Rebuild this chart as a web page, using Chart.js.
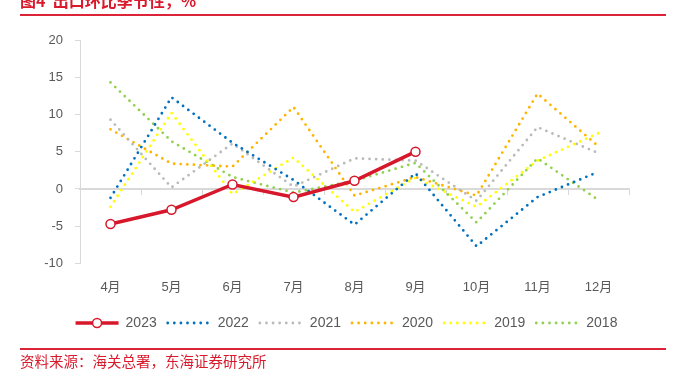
<!DOCTYPE html>
<html>
<head>
<meta charset="utf-8">
<script src="https://cdn.jsdelivr.net/npm/chart.js@4.4.0/dist/chart.umd.min.js"></script>
<style>
  html, body { margin: 0; padding: 0; background: #fff; }
  body { width: 682px; height: 376px; position: relative; overflow: hidden; }
  #wrap { position: absolute; left: 0; top: 0; width: 682px; height: 376px; }
  .title { position: absolute; left: 20px; top: -8px; font: bold 16px/16px "Noto Sans CJK SC", sans-serif; color: #D9192C; white-space: pre; }
  .rule { position: absolute; left: 20px; width: 646px; height: 2px; background: #DC2438; }
  .src { position: absolute; left: 20px; top: 352px; font: 14.5px/18px "Noto Sans CJK SC", sans-serif; color: #D9192C; white-space: pre; }
</style>
</head>
<body>
<div id="wrap"><canvas id="c" width="682" height="376"></canvas></div>
<div class="title">图4  出口环比季节性，%</div>
<div class="rule" style="top:14px"></div>
<div class="rule" style="top:348px"></div>
<div class="src">资料来源：海关总署，东海证券研究所</div>
<script>
const categories = ['4月','5月','6月','7月','8月','9月','10月','11月','12月'];
const seriesNames = ['2023','2022','2021','2020','2019','2018'];
const v2023 = [-4.7, -2.8, 0.6, -1.1, 1.1, 5.0];
const v2022 = [-1.2, 12.3, 6.2, 1.2, -4.8, 2.1, -7.7, -1.1, 2.3];
const v2021 = [9.3, 0.2, 6.1, 0.3, 4.1, 3.8, -1.6, 8.3, 4.8];
const v2020 = [8.0, 3.4, 3.0, 11.0, -0.9, 1.6, -0.9, 12.8, 5.7];
const v2019 = [-2.4, 10.2, -0.7, 4.2, -3.1, 1.5, -2.4, 3.8, 7.5];
const v2018 = [14.3, 6.4, 1.6, -0.5, 1.1, 3.5, -4.5, 4.1, -1.5];
const yTicks = [-10, -5, 0, 5, 10, 15, 20];

const FONT = '"Liberation Sans", "Noto Sans CJK SC", sans-serif';
const dotted = (label, data, color) => ({
  label, data,
  borderColor: color, backgroundColor: color,
  borderWidth: 2.8, borderDash: [0, 6.6], borderCapStyle: 'round',
  pointRadius: 0, pointHoverRadius: 0, tension: 0, fill: false
});

const legendTweak = {
  id: 'legendTweak',
  afterLayout(chart) {
    if (chart.legend) chart.legend.left += 64;
  },
  afterDraw(chart) {
    const lg = chart.legend;
    if (!lg || !lg.legendHitBoxes || !lg.legendHitBoxes.length) return;
    const hb = lg.legendHitBoxes[0];
    const ds = chart.data.datasets[0];
    const ctx = chart.ctx;
    const bw = lg.options.labels.pointStyleWidth;
    const fs = lg.options.labels.font.size;
    ctx.save();
    ctx.beginPath();
    ctx.arc(hb.left + bw / 2, hb.top + fs / 2, ds.pointRadius, 0, Math.PI * 2);
    ctx.fillStyle = ds.pointBackgroundColor;
    ctx.fill();
    ctx.lineWidth = ds.pointBorderWidth;
    ctx.strokeStyle = ds.pointBorderColor;
    ctx.stroke();
    ctx.restore();
  }
};

new Chart(document.getElementById('c'), {
  type: 'line',
  data: {
    labels: categories,
    datasets: [
      {
        label: seriesNames[0], data: v2023,
        borderColor: '#D7172B', backgroundColor: '#D7172B',
        borderWidth: 3.5, tension: 0, fill: false, borderCapStyle: 'butt',
        pointRadius: 4.5, pointHoverRadius: 4.5,
        pointBackgroundColor: '#ffffff', pointBorderColor: '#D7172B', pointBorderWidth: 1.5
      },
      dotted(seriesNames[1], v2022, '#0070C0'),
      dotted(seriesNames[2], v2021, '#BABABA'),
      dotted(seriesNames[3], v2020, '#FFB400'),
      dotted(seriesNames[4], v2019, '#FFFF00'),
      dotted(seriesNames[5], v2018, '#92D050')
    ]
  },
  options: {
    responsive: false,
    animation: false,
    events: [],
    layout: { padding: { top: 40, right: 53, left: 0, bottom: 36 } },
    plugins: {
      tooltip: { enabled: false },
      title: { display: false },
      legend: {
        position: 'bottom',
        labels: {
          usePointStyle: true, pointStyle: 'line', pointStyleWidth: 43,
          padding: 11, color: '#595959',
          font: { family: FONT, size: 14 },
          generateLabels(chart) {
            const items = Chart.defaults.plugins.legend.labels.generateLabels(chart);
            items.forEach(it => {
              const ds = chart.data.datasets[it.datasetIndex];
              it.lineDash = ds.borderDash || [];
              it.lineWidth = ds.borderWidth;
              it.lineCap = ds.borderCapStyle || 'butt';
              it.strokeStyle = ds.borderColor;
              it.fillStyle = ds.borderColor;
              it.pointStyle = 'line';
            });
            return items;
          }
        }
      }
    },
    scales: {
      x: {
        type: 'category', position: 'bottom', offset: true,
        afterFit(scale) { scale.height -= 6; },
        grid: { display: false, drawTicks: false },
        border: { display: false },
        ticks: { color: '#595959', font: { family: FONT, size: 13 }, padding: 16, maxRotation: 0 }
      },
      x0: {
        type: 'category', axis: 'x', labels: categories, position: { y: 0 }, offset: true,
        grid: { display: true, offset: true, drawOnChartArea: false, drawTicks: true, tickLength: 5, color: '#D9D9D9', lineWidth: 1 },
        border: { display: true, color: '#D9D9D9', width: 2 },
        ticks: { display: false }
      },
      y: {
        min: -10, max: 20,
        afterFit(scale) { scale.width = 80; },
        afterBuildTicks(scale) { scale.ticks = yTicks.map(v => ({ value: v })); },
        grid: { display: true, drawOnChartArea: false, drawTicks: true, tickLength: 5, color: '#D9D9D9' },
        border: { display: true, color: '#D9D9D9', width: 1 },
        ticks: { color: '#595959', font: { family: FONT, size: 13 }, padding: 12 }
      }
    }
  },
  plugins: [legendTweak]
});
</script>
</body>
</html>
